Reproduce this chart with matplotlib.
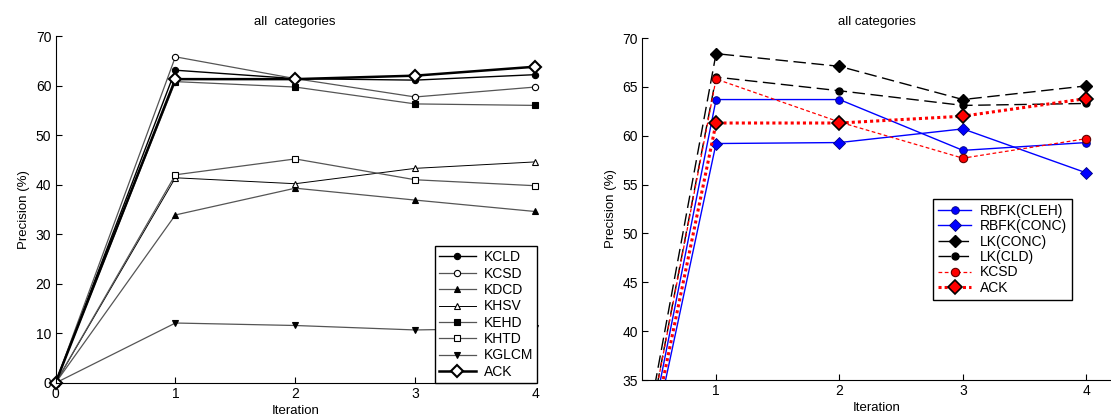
import matplotlib
matplotlib.use('Agg')
import matplotlib.pyplot as plt

plt.rcParams['font.family'] = ['Liberation Sans', 'DejaVu Sans']

iterations = [0, 1, 2, 3, 4]

# left panel: single-feature kernels vs ACK
kcld = [0, 63.1, 61.4, 61.1, 62.2]
kcsd = [0, 65.8, 61.4, 57.7, 59.7]
kdcd = [0, 33.9, 39.3, 36.9, 34.6]
khsv = [0, 41.4, 40.2, 43.3, 44.6]
kehd = [0, 60.8, 59.7, 56.3, 56.0]
khtd = [0, 42.0, 45.2, 41.0, 39.8]
kglcm = [0, 12.1, 11.6, 10.7, 11.1]
ack = [0, 61.3, 61.3, 62.0, 63.8]

# right panel: combined kernels
rbfk_cleh = [0, 63.7, 63.7, 58.5, 59.3]
rbfk_conc = [0, 59.2, 59.3, 60.7, 56.2]
lk_conc = [0, 68.4, 67.1, 63.7, 65.1]
lk_cld = [0, 66.0, 64.6, 63.1, 63.3]

W, H = 1111, 420
fig = plt.figure(figsize=(W / 100, H / 100), dpi=100)
fig.patch.set_facecolor('white')


def style_axes(ax):
    ax.spines['top'].set_visible(False)
    ax.spines['right'].set_visible(False)
    ax.tick_params(direction='in', length=4, labelsize=10, pad=3)
    ax.set_xlabel('Iteration', fontsize=9.5, labelpad=3)
    ax.set_ylabel('Precision (%)', fontsize=9.5, labelpad=4)


ax1 = fig.add_axes([55.5 / W, 1 - 383 / H, 479.5 / W, 347 / H])
gray = '#555555'
left_series = [
    ('KCLD', kcld, 'o', 'black', 'black', 1.0, 4.5),
    ('KCSD', kcsd, 'o', 'white', gray, 0.9, 4.5),
    ('KDCD', kdcd, '^', 'black', gray, 0.9, 4.5),
    ('KHSV', khsv, '^', 'white', 'black', 0.7, 4.5),
    ('KEHD', kehd, 's', 'black', gray, 0.9, 4.5),
    ('KHTD', khtd, 's', 'white', gray, 0.9, 5),
    ('KGLCM', kglcm, 'v', 'black', gray, 0.9, 4.5),
]
for name, vals, mk, face, lc, lw, ms in left_series:
    ax1.plot(iterations, vals, color=lc, lw=lw, marker=mk, ms=ms,
             mfc=face, mec='black', mew=0.8, label=name, clip_on=False)
ax1.plot(iterations, ack, color='black', lw=1.8, marker='D', ms=6,
         mfc='white', mec='black', mew=1.5, label='ACK', clip_on=False)
ax1.set_xlim(0, 4)
ax1.set_ylim(0, 70)
ax1.set_xticks(range(0, 5))
ax1.set_yticks(range(0, 71, 10))
ax1.set_title('all  categories', fontsize=9.5, pad=8)
style_axes(ax1)
leg1 = ax1.legend(loc='lower right', bbox_to_anchor=(1.005, 0), fontsize=10,
                  frameon=True, fancybox=False, edgecolor='black', framealpha=1,
                  handlelength=2.6, handletextpad=0.6, labelspacing=0.17,
                  borderpad=0.3, borderaxespad=0)
leg1.get_frame().set_linewidth(1.0)
leg1.set_zorder(20)

ax2 = fig.add_axes([642 / W, 1 - 380 / H, 469 / W, 342 / H])
ax2.plot(iterations, rbfk_cleh, color='blue', lw=1.0, marker='o', ms=5.5,
         mfc='blue', mec='#000080', mew=0.6, label='RBFK(CLEH)')
ax2.plot(iterations, rbfk_conc, color='blue', lw=1.0, marker='D', ms=6.5,
         mfc='blue', mec='#000080', mew=0.6, label='RBFK(CONC)')
ax2.plot(iterations, lk_conc, color='black', lw=1.0, ls=(0, (9, 4)), marker='D',
         ms=6.5, mfc='black', mec='black', label='LK(CONC)')
ax2.plot(iterations, lk_cld, color='black', lw=1.0, ls=(0, (9, 4)), marker='o',
         ms=5, mfc='black', mec='black', label='LK(CLD)')
ax2.plot(iterations, kcsd, color='red', lw=0.9, ls=(0, (3, 2)), marker='o',
         ms=6, mfc='red', mec='#600000', mew=0.8, label='KCSD')
ax2.plot(iterations, ack, color='red', lw=2.2, ls=(0, (1, 1)), marker='D',
         ms=7, mfc='red', mec='black', mew=1.2, label='ACK')
ax2.set_xlim(0.4, 4.2)
ax2.set_ylim(35, 70)
ax2.set_xticks(range(1, 5))
ax2.set_yticks(range(35, 71, 5))
ax2.set_title('all categories', fontsize=9.5, pad=9)
style_axes(ax2)
leg2 = ax2.legend(loc='upper left', bbox_to_anchor=(933 / W, 1 - 199 / H),
                  bbox_transform=fig.transFigure, fontsize=10,
                  frameon=True, fancybox=False, edgecolor='black', framealpha=1,
                  handlelength=2.4, handletextpad=0.6, labelspacing=0.1,
                  borderpad=0.35, borderaxespad=0)
leg2.get_frame().set_linewidth(1.0)

fig.savefig('out.png', dpi=100, facecolor='white')
